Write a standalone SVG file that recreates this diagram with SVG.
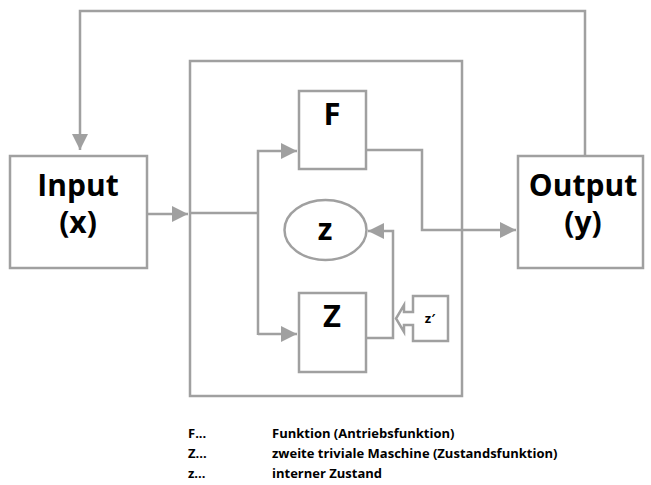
<svg xmlns="http://www.w3.org/2000/svg" width="651" height="485" viewBox="0 0 651 485">
<style>
.s{fill:none;stroke:#a0a0a0;stroke-width:2.5}
.b{fill:#fff;stroke:#a0a0a0;stroke-width:2.5}
.t{font-family:"Open Sans","Noto Sans","Liberation Sans",sans-serif;font-weight:bold;fill:#000;text-anchor:middle}
.l{font-family:"Open Sans","Noto Sans","Liberation Sans",sans-serif;font-weight:bold;fill:#000;font-size:13px}
</style>
<defs>
<marker id="ah" viewBox="0 0 10 10" refX="10" refY="5" markerWidth="16" markerHeight="16" markerUnits="userSpaceOnUse" orient="auto">
<path d="M0,0 L10,5 L0,10 Z" fill="#a0a0a0"/>
</marker>
</defs>
<g id="connectors">
<path class="s" d="M585,156 V11 H80 V150" marker-end="url(#ah)"/>
<path class="s" d="M133,214 H188" marker-end="url(#ah)"/>
<path class="s" d="M190,213 H258"/>
<path class="s" d="M258,335 V151 H297" marker-end="url(#ah)"/>
<path class="s" d="M258,334 H297" marker-end="url(#ah)"/>
<path class="s" d="M366,150 H422 V230 H516" marker-end="url(#ah)"/>
<path class="s" d="M366,338 H393 V231 H368" marker-end="url(#ah)"/>
</g>
<g id="input">
<rect class="b" x="10" y="156" width="137" height="112"/>
<text class="t" x="78" y="196" font-size="30">Input</text>
<text class="t" x="78" y="233" font-size="30">(x)</text>
</g>
<g id="output">
<rect class="b" x="518" y="156" width="125" height="112"/>
<text class="t" x="583" y="196" font-size="30">Output</text>
<text class="t" x="583" y="233" font-size="30">(y)</text>
</g>
<g id="system">
<rect class="s" x="190" y="61" width="272" height="335"/>
</g>
<g id="F">
<rect class="b" x="299" y="91" width="67" height="78"/>
<text class="t" x="332" y="125" font-size="31">F</text>
</g>
<g id="Z">
<rect class="b" x="299" y="293" width="67" height="79"/>
<text class="t" x="332" y="327" font-size="31">Z</text>
</g>
<g id="z">
<ellipse class="b" cx="325.5" cy="230" rx="41" ry="30"/>
<text class="t" x="325" y="240" font-size="30">z</text>
</g>
<g id="zprime">
<path class="b" d="M413,296 H448 V341 H413 V325 H404 V332 L396,318.5 L404,305 V312 H413 Z"/>
<text class="t" x="430" y="323" font-size="13">z′</text>
</g>
<g id="legend">
<text class="l" x="188" y="438">F...</text>
<text class="l" x="272" y="438">Funktion (Antriebsfunktion)</text>
<text class="l" x="188" y="458">Z...</text>
<text class="l" x="272" y="458">zweite triviale Maschine (Zustandsfunktion)</text>
<text class="l" x="188" y="478">z...</text>
<text class="l" x="272" y="478">interner Zustand</text>
</g>
</svg>
